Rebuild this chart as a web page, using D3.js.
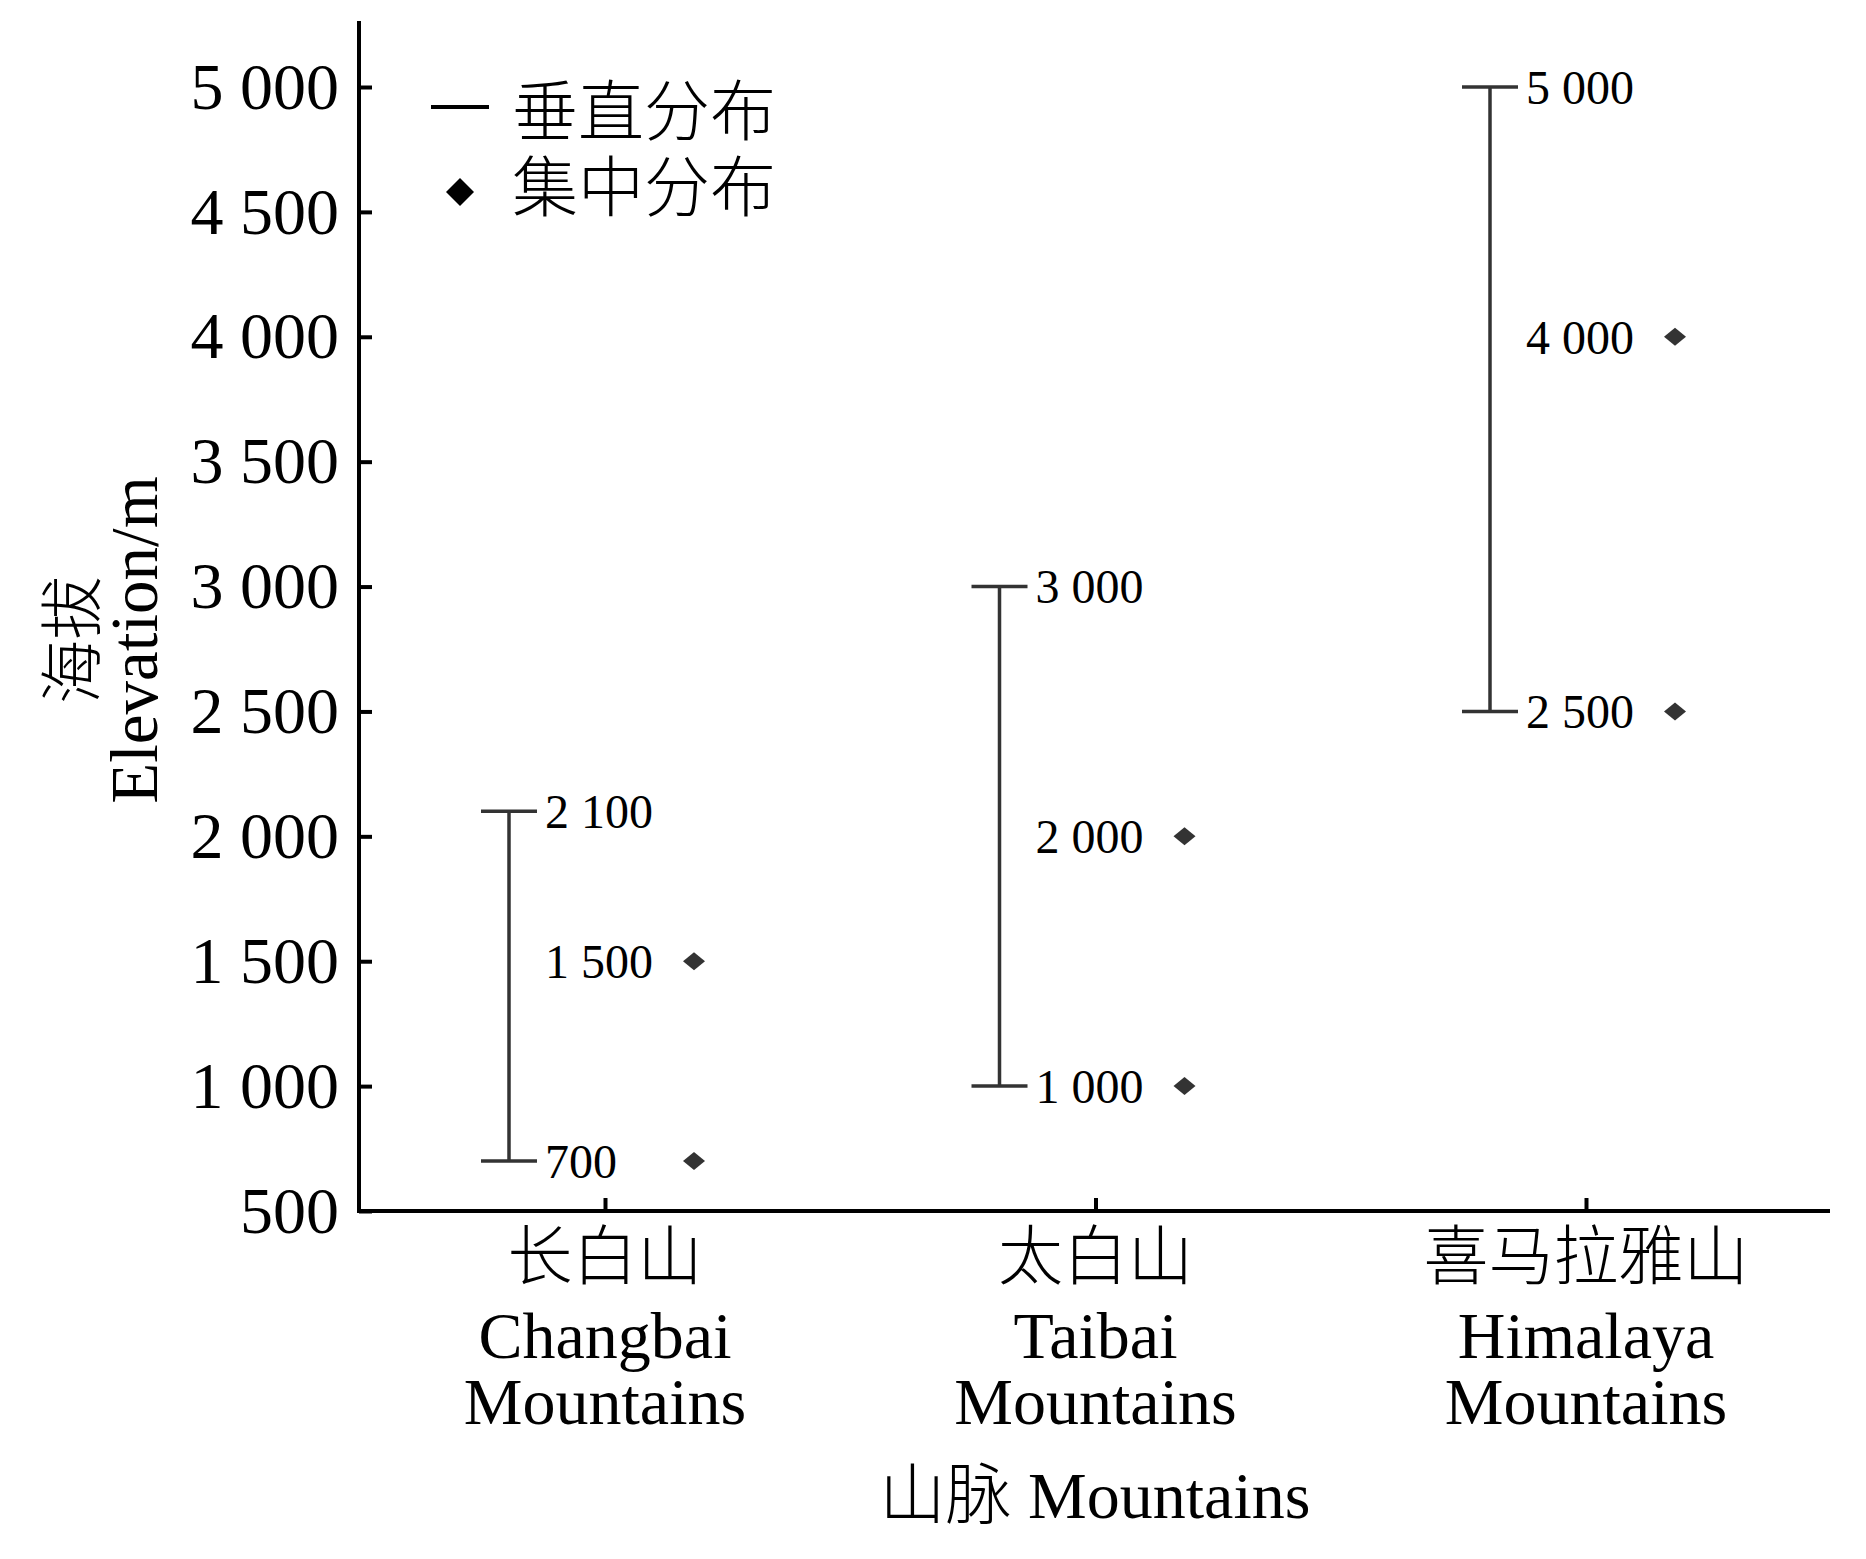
<!DOCTYPE html>
<html><head><meta charset="utf-8">
<script src="https://cdn.jsdelivr.net/npm/d3@7/dist/d3.min.js"></script>
<style>
html,body{margin:0;padding:0;background:#fff;}
svg{display:block;}
text{font-family:"Liberation Serif","Noto Sans CJK SC",serif;fill:#000;}
</style></head>
<body>
<script>
const categoriesZh = ["长白山", "太白山", "喜马拉雅山"];
const categoriesEn = ["Changbai", "Taibai", "Himalaya"];
const rangeMin = [700, 1000, 2500];
const rangeMax = [2100, 3000, 5000];
const concLow = [700, 1000, 2500];
const concHigh = [1500, 2000, 4000];
const yTicks = [500, 1000, 1500, 2000, 2500, 3000, 3500, 4000, 4500, 5000];
const legendLabels = ["垂直分布", "集中分布"];
const yTitleZh = "海拔", yTitleEn = "Elevation/m";
const xTitle = "山脉 Mountains";

const W = 1866, H = 1559;
const svg = d3.select("body").append("svg").attr("width", W).attr("height", H);
const fmt = d3.formatLocale({decimal: ".", thousands: " ", grouping: [3], currency: ["", ""]}).format(",d");

const axisX = 359, axisY = 1211, axisTop = 21, axisRight = 1830;
const y = d3.scaleLinear().domain([500, 5000]).range([axisY, 87]);
const x = d3.scalePoint().domain(categoriesZh).range([605, 1586]);

// Y axis
const gy = svg.append("g").attr("transform", `translate(${axisX},0)`)
  .call(d3.axisLeft(y).tickValues(yTicks).tickFormat(fmt).tickSize(-13).tickPadding(20));
gy.select(".domain").remove();
gy.selectAll(".tick line").attr("stroke", "#000").attr("stroke-width", 4);
gy.selectAll(".tick text").attr("font-size", 66).attr("font-family", "Liberation Serif").attr("fill", "#000");

// X axis
const gx = svg.append("g").attr("transform", `translate(0,${axisY})`)
  .call(d3.axisBottom(x).tickSize(-13).tickFormat(""));
gx.select(".domain").remove();
gx.selectAll(".tick line").attr("stroke", "#000").attr("stroke-width", 4);

// axis lines
svg.append("line").attr("x1", axisX).attr("x2", axisX).attr("y1", axisTop).attr("y2", axisY + 2)
  .attr("stroke", "#000").attr("stroke-width", 4);
svg.append("line").attr("x1", axisX - 2).attr("x2", axisRight).attr("y1", axisY).attr("y2", axisY)
  .attr("stroke", "#000").attr("stroke-width", 4);

// category labels
categoriesZh.forEach((c, i) => {
  const cx = x(c);
  svg.append("text").attr("x", cx).attr("y", 1279).attr("text-anchor", "middle")
    .attr("font-size", 65).attr("font-family", "Noto Sans CJK SC").attr("font-weight", 300).text(c);
  svg.append("text").attr("x", cx).attr("y", 1358).attr("text-anchor", "middle")
    .attr("font-size", 66).text(categoriesEn[i]);
  svg.append("text").attr("x", cx).attr("y", 1424).attr("text-anchor", "middle")
    .attr("font-size", 66).text("Mountains");
});

// x title
const xt = svg.append("text").attr("x", 1095).attr("y", 1518).attr("text-anchor", "middle").attr("font-size", 66);
xt.append("tspan").attr("font-family", "Noto Sans CJK SC").attr("font-weight", 300).text(xTitle.split(" ")[0]);
xt.append("tspan").text(" " + xTitle.split(" ").slice(1).join(" "));

// y title
const yt = svg.append("g").attr("transform", "translate(0,640) rotate(-90)");
yt.append("text").attr("x", 0).attr("y", 95).attr("text-anchor", "middle")
  .attr("font-size", 64).attr("font-family", "Noto Sans CJK SC").attr("font-weight", 300).text(yTitleZh);
yt.append("text").attr("x", 0).attr("y", 157).attr("text-anchor", "middle")
  .attr("font-size", 67).text(yTitleEn);

// range bars
const barOff = -96, dotOff = 89, capW = 28;
const bars = svg.append("g");
categoriesZh.forEach((c, i) => {
  const bx = x(c) + barOff;
  bars.append("line").attr("x1", bx).attr("x2", bx).attr("y1", y(rangeMin[i])).attr("y2", y(rangeMax[i]))
    .attr("stroke", "#333").attr("stroke-width", 3.5);
  [rangeMin[i], rangeMax[i]].forEach(v => {
    bars.append("line").attr("x1", bx - capW).attr("x2", bx + capW).attr("y1", y(v)).attr("y2", y(v))
      .attr("stroke", "#333").attr("stroke-width", 3.5);
  });
  const vals = Array.from(new Set([rangeMin[i], rangeMax[i], concHigh[i]]));
  vals.forEach(v => {
    bars.append("text").attr("x", bx + 36).attr("y", y(v)).attr("dy", "0.35em")
      .attr("font-size", 48).text(fmt(v));
  });
  [concLow[i], concHigh[i]].forEach(v => {
    bars.append("path").attr("transform", `translate(${x(c) + dotOff},${y(v)})`)
      .attr("d", "M-11,0L0,-9L11,0L0,9Z").attr("fill", "#333");
  });
});

// legend
svg.append("line").attr("x1", 431).attr("x2", 489).attr("y1", 107).attr("y2", 107)
  .attr("stroke", "#000").attr("stroke-width", 4);
svg.append("path").attr("transform", "translate(460,192)").attr("d", "M-14,0L0,-14L14,0L0,14Z").attr("fill", "#000");
svg.append("text").attr("x", 512).attr("y", 111).attr("dy", "0.36em").attr("font-size", 66)
  .attr("font-family", "Noto Sans CJK SC").attr("font-weight", 300).text(legendLabels[0]);
svg.append("text").attr("x", 512).attr("y", 187).attr("dy", "0.36em").attr("font-size", 66)
  .attr("font-family", "Noto Sans CJK SC").attr("font-weight", 300).text(legendLabels[1]);
</script>
</body></html>
